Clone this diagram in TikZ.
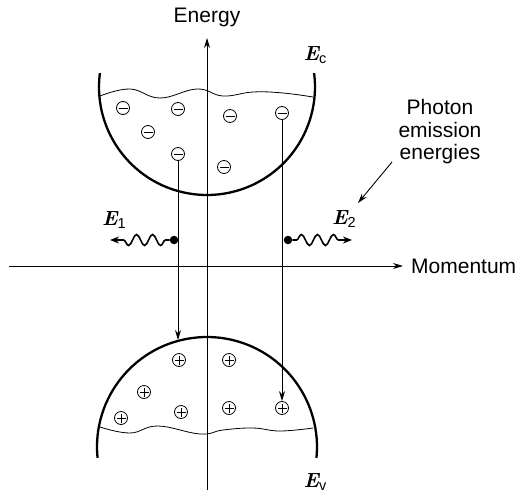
\documentclass[tikz,border=0pt]{standalone}
\usepackage{fontspec}
\setmainfont{Liberation Sans}
\newfontfamily\eserif{Latin Modern Roman}
\usetikzlibrary{arrows.meta,decorations.pathmorphing}
\tikzset{
  band/.style={line width=2.3pt},
  surf/.style={line width=0.8pt},
  axis/.style={line width=0.9pt,-{Stealth[length=10pt,width=6pt]}},
  trans/.style={line width=0.9pt,-{Stealth[length=10pt,width=6pt]}},
  elec/.style={circle,draw,line width=0.8pt,minimum size=13pt,inner sep=0pt,
    path picture={\draw[line width=0.8pt] ([xshift=-4.5pt]path picture bounding box.center) -- ([xshift=4.5pt]path picture bounding box.center);}},
  hole/.style={circle,draw,line width=0.8pt,minimum size=13pt,inner sep=0pt,
    path picture={\draw[line width=0.8pt] ([xshift=-4.5pt]path picture bounding box.center) -- ([xshift=4.5pt]path picture bounding box.center)
      ([yshift=-4.5pt]path picture bounding box.center) -- ([yshift=4.5pt]path picture bounding box.center);}},
  dot/.style={circle,fill,inner sep=0pt,minimum size=8.5pt},
  photon/.style={line width=1.6pt,decorate,decoration={snake,amplitude=5.5pt,segment length=16pt,pre length=4pt,post length=10pt},-{Stealth[length=9pt,width=7pt]}},
  lbl/.style={font=\fontsize{21}{24}\selectfont,inner sep=0pt},
  elbl/.style={inner sep=0pt},
}
\newcommand{\EE}[1]{{\eserif\fontsize{20.5}{22}\selectfont\bfseries\itshape E}\raisebox{-2.5pt}{\fontsize{14.5}{16}\selectfont #1}}
\begin{document}
\begin{tikzpicture}[x=1pt,y=-1pt]
\useasboundingbox (0,0) rectangle (522,493);
% axes
\coordinate (vb) at (207,490);
\coordinate (vt) at (207,38);
\coordinate (hl) at (9,266);
\coordinate (hr) at (403,266);
\draw[axis] (vb) -- (vt);
\draw[axis] (hl) -- (hr);
\node[lbl] (energy) at (207,17) {Energy};
\node[lbl,anchor=west] (mom) at (411,266) {Momentum};
% conduction band
\draw[band] (207,87) ++(187.4:108) arc[start angle=187.4,end angle=-7.4,radius=108];
\draw[surf] plot[smooth,tension=0.7] coordinates {(100,96) (130,89) (160,98) (197,89) (223,96) (253,92) (283,93) (313,97)};
\node[elbl] (Ec) at (315,55) {\EE{c}};
% valence band
\draw[band] (207,447) ++(174.3:110) arc[start angle=174.3,end angle=365.7,radius=110];
\draw[surf] plot[smooth,tension=0.7] coordinates {(100,427) (130,433) (158,426) (200,434) (223,430) (253,428) (280,431) (313,428)};
\node[elbl] (Ev) at (315,482) {\EE{v}};
% electrons
\node[elec] (e1) at (123,108) {};
\node[elec] (e2) at (178,109) {};
\node[elec] (e3) at (148,132) {};
\node[elec] (e4) at (178,154) {};
\node[elec] (e5) at (230,116) {};
\node[elec] (e6) at (282,113) {};
\node[elec] (e7) at (224,167) {};
% holes
\node[hole] (h1) at (179,360) {};
\node[hole] (h2) at (229,360) {};
\node[hole] (h3) at (144,392) {};
\node[hole] (h4) at (181,412) {};
\node[hole] (h5) at (229,408) {};
\node[hole] (h6) at (282,408) {};
\node[hole] (h7) at (121,418) {};
% transitions
\coordinate (t1) at (178,340);
\draw[trans] (e4) -- (t1);
\draw[trans] (e6) -- (h6);
% photons
\node[dot] (d1) at (174,240) {};
\node[dot] (d2) at (288,240) {};
\coordinate (p1) at (110,240);
\coordinate (p2) at (352,240);
\draw[photon] (d1) -- (p1);
\draw[photon] (d2) -- (p2);
\node[elbl] (E1) at (114,220) {\EE{1}};
\node[elbl] (E2) at (344,219) {\EE{2}};
% annotation
\node[lbl,align=center] (ph) at (440,132) {Photon\\[-1.5pt]emission\\[-1.5pt]energies};
\coordinate (as) at (392,162);
\coordinate (ae) at (358,203);
\draw[line width=0.9pt,-{Stealth[length=10pt,width=6pt]}] (as) -- (ae);
\end{tikzpicture}
\end{document}
